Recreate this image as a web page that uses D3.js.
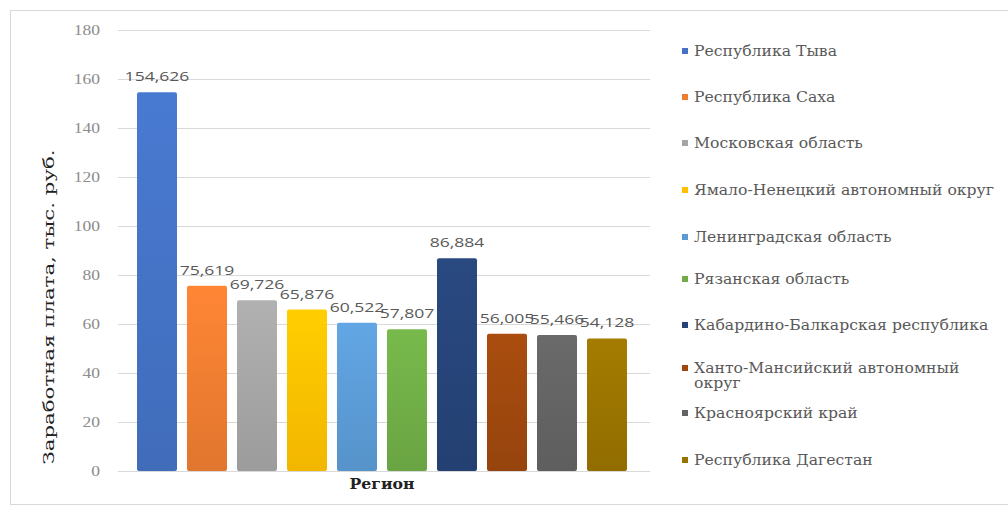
<!DOCTYPE html>
<html>
<head>
<meta charset="utf-8">
<script src="https://cdn.jsdelivr.net/npm/d3@7/dist/d3.min.js"></script>
<style>
  body { margin: 0; background: #fff; }
  svg { display: block; }
</style>
</head>
<body>
<div id="chart"></div>
<script>
var regions = [
  'Республика Тыва',
  'Республика Саха',
  'Московская область',
  'Ямало-Ненецкий автономный округ',
  'Ленинградская область',
  'Рязанская область',
  'Кабардино-Балкарская республика',
  'Ханто-Мансийский автономный округ',
  'Красноярский край',
  'Республика Дагестан'
]
var salaries = [154.626, 75.619, 69.726, 65.876, 60.522, 57.807, 86.884, 56.005, 55.466, 54.128]
var yTicks = [0, 20, 40, 60, 80, 100, 120, 140, 160, 180]
var colors = ['#4472C4', '#ED7D31', '#A5A5A5', '#FFC000', '#5B9BD5', '#70AD47', '#264478', '#9E480E', '#636363', '#997300']

var width = 1008, height = 510
var serif = '"DejaVu Serif", "Liberation Serif", serif'

// растягиваем текст по горизонтали, как на исходной картинке
function stretch (sel, k) {
  sel.each(function () {
    var len = this.getComputedTextLength()
    d3.select(this)
      .attr('textLength', len * k)
      .attr('lengthAdjust', 'spacingAndGlyphs')
  })
}

var svg = d3.select('#chart').append('svg')
  .attr('width', width)
  .attr('height', height)

// рамка диаграммы
svg.append('rect')
  .attr('x', 10.5).attr('y', 10.5)
  .attr('width', 1010).attr('height', 494)
  .attr('fill', 'none')
  .attr('stroke', '#d9d9d9')

var defs = svg.append('defs')
colors.forEach(function (c, i) {
  var g = defs.append('linearGradient')
    .attr('id', 'grad' + i)
    .attr('x1', 0).attr('x2', 0).attr('y1', 0).attr('y2', 1)
  g.append('stop').attr('offset', '0%').attr('stop-color', d3.color(c).brighter(0.2))
  g.append('stop').attr('offset', '100%').attr('stop-color', d3.color(c).darker(0.15))
})

var x = d3.scaleBand()
  .domain(regions)
  .range([112, 652])
  .paddingInner(0.2)
  .paddingOuter(0.5)

var y = d3.scaleLinear()
  .domain([0, 180])
  .range([471, 30])

// сетка
svg.append('g')
  .selectAll('line')
  .data(yTicks)
  .enter()
  .append('line')
  .attr('x1', 118).attr('x2', 650)
  .attr('y1', function (d) { return Math.round(y(d)) + 0.5 })
  .attr('y2', function (d) { return Math.round(y(d)) + 0.5 })
  .attr('stroke', '#d9d9d9')
  .attr('stroke-width', 1)

// подписи оси Y
var yAxis = d3.axisLeft(y).tickValues(yTicks).tickSize(0).tickPadding(0)
var gy = svg.append('g')
  .attr('transform', 'translate(100,0)')
  .call(yAxis)
gy.select('.domain').remove()
gy.selectAll('.tick text')
  .attr('font-size', null)
  .attr('font-family', null)
  .attr('fill', '#8c8c8c')
  .style('font-family', '"Liberation Serif", serif')
  .style('font-size', '14px')
  .call(stretch, 1.25)

// столбцы
svg.append('g')
  .selectAll('.bar')
  .data(salaries)
  .enter()
  .append('rect')
  .attr('class', 'bar')
  .attr('x', function (d, i) { return x(regions[i]) })
  .attr('y', function (d) { return y(d) })
  .attr('width', x.bandwidth())
  .attr('height', function (d) { return y(0) - y(d) })
  .attr('rx', 2)
  .attr('fill', function (d, i) { return 'url(#grad' + i + ')' })

// подписи значений
var fmt = d3.format(',.3f')
svg.append('g')
  .selectAll('text')
  .data(salaries)
  .enter()
  .append('text')
  .attr('x', function (d, i) { return x(regions[i]) + x.bandwidth() / 2 })
  .attr('y', function (d) { return y(d) - 11 })
  .attr('text-anchor', 'middle')
  .attr('fill', '#595959')
  .style('font-family', '"Open Sans", sans-serif')
  .style('font-size', '13px')
  .text(function (d) { return fmt(d).replace('.', ',') })
  .call(stretch, 1.35)

// заголовки осей
svg.append('text')
  .attr('transform', 'translate(54,307) rotate(-90)')
  .attr('text-anchor', 'middle')
  .style('font-family', serif)
  .style('font-size', '15px')
  .attr('fill', '#222')
  .text('Заработная плата, тыс. руб.')
  .attr('textLength', 315)
  .attr('lengthAdjust', 'spacingAndGlyphs')

svg.append('text')
  .attr('x', 382).attr('y', 489)
  .attr('text-anchor', 'middle')
  .style('font-family', serif)
  .style('font-size', '15px')
  .style('font-weight', 'bold')
  .attr('fill', '#222')
  .text('Регион')
  .attr('textLength', 65)
  .attr('lengthAdjust', 'spacingAndGlyphs')

// легенда
var legendY = [56, 102, 148, 195, 242, 284, 330, 373, 418, 465]
var legend = svg.append('g')
var legendK = 1
regions.forEach(function (r, i) {
  var row = legend.append('g').attr('transform', 'translate(682,' + legendY[i] + ')')
  row.append('rect')
    .attr('x', 0).attr('y', -8)
    .attr('width', 6).attr('height', 6)
    .attr('fill', colors[i])
  var lines = r === 'Ханто-Мансийский автономный округ'
    ? ['Ханто-Мансийский автономный', 'округ']
    : [r]
  lines.forEach(function (s, j) {
    row.append('text')
      .attr('class', 'legend-text')
      .attr('x', 12).attr('y', j * 15)
      .attr('fill', '#595959')
      .style('font-family', serif)
      .style('font-size', '14px')
      .text(s)
  })
})
// самая длинная строка легенды занимает ~300px
legend.selectAll('.legend-text').each(function () {
  if (d3.select(this).text() === regions[3]) legendK = 300 / this.getComputedTextLength()
})
legend.selectAll('.legend-text').call(stretch, legendK)
</script>
</body>
</html>
